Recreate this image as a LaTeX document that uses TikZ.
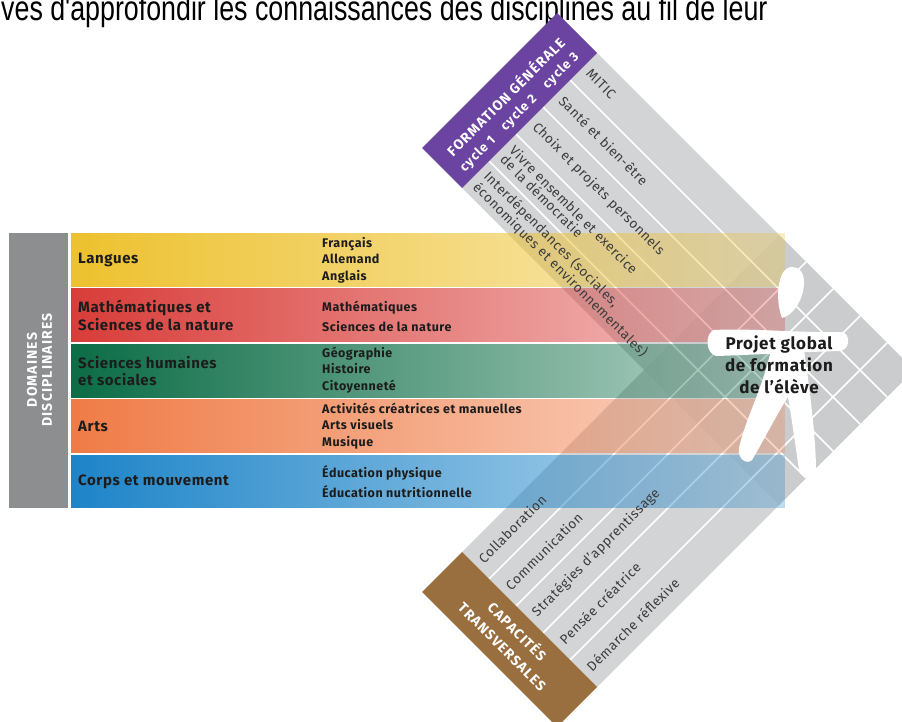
\documentclass[tikz,border=0pt]{standalone}
\usepackage{fontspec}
\setmainfont{Fira Sans}[LetterSpace=4]
\newfontfamily\spacedfont{Fira Sans}[LetterSpace=8]
\newfontfamily\pagefont{Liberation Sans}
\definecolor{dgGray}{HTML}{8D8E90}
\definecolor{dgStrip}{HTML}{C9CACC}
\definecolor{dgPurple}{HTML}{6B43A1}
\definecolor{dgBrown}{HTML}{9A6F3F}
\definecolor{dgYellow}{HTML}{EDC12E}
\definecolor{dgRed}{HTML}{D83C38}
\definecolor{dgGreen}{HTML}{0B6C46}
\definecolor{dgOrange}{HTML}{EF7B46}
\definecolor{dgBlue}{HTML}{1D84C8}
\definecolor{dgText}{HTML}{1C1C1C}
\definecolor{dgStripText}{HTML}{3C3C3C}
\usetikzlibrary{fadings}
\tikzfading[name=bandfade, left color=transparent!0, right color=transparent!72]

\begin{document}
\begin{tikzpicture}[x=1pt, y=-1pt,
  band/.style={fill=#1, path fading=bandfade},
  bandlabel/.style={anchor=west, inner sep=0pt, align=left, text=dgText, font=\fontsize{15}{17.3}\selectfont\bfseries},
  subjects/.style={anchor=west, inner sep=0pt, align=left, text=dgText, font=\fontsize{12.5}{16.5}\selectfont\bfseries},
  strip text/.style={anchor=west, inner sep=0pt, align=left, text=dgStripText, font=\fontsize{13.5}{13}\selectfont},
  header text/.style={inner sep=0pt, align=center, text=white, font=\spacedfont\fontsize{14}{15}\selectfont\bfseries},
  cycle text/.style={header text, font=\spacedfont\fontsize{13}{14}\selectfont\bfseries}]
  \clip (0,0) rectangle (902,722);
  % page text cut off at the top
  \node[anchor=base west, inner sep=0pt, font=\pagefont\fontsize{26.8}{30}\selectfont] (pagetext) at (1,21) {\scalebox{1}[1.3]{ves d'approfondir les connaissances des disciplines au fil de leur}};

  % "Formation generale" and "Capacites transversales" strips
  \fill[dgStrip, fill opacity=0.82] (597,53) -- (914,370) -- (779,505) -- (462,188) -- cycle;
  \fill[dgStrip, fill opacity=0.82] (597,687) -- (914,370) -- (779,235) -- (462,552) -- cycle;
  \foreach \a in {27,54,81,108} {
    \draw[white, line width=1.5pt] (597-\a,53+\a) -- (914-\a,370+\a);
    \draw[white, line width=1.5pt] (597-\a,687-\a) -- (914-\a,370-\a);
  }
  % strip headers
  \fill[dgPurple] (557,13) -- (597,53) -- (462,188) -- (422,148) -- cycle;
  \fill[dgBrown] (462,552) -- (597,687) -- (557,727) -- (422,592) -- cycle;
  \node[header text, rotate=45] (formation) at (505,96) {FORMATION GÉNÉRALE};
  \node[cycle text, rotate=45] (cycleone) at (478,154) {cycle 1};
  \node[cycle text, rotate=45] (cycletwo) at (519,113) {cycle 2};
  \node[cycle text, rotate=45] (cyclethree) at (561,71) {cycle 3};
  \node[header text, rotate=-45] (capacites) at (518,631) {CAPACITÉS};
  \node[header text, rotate=-45] (transversales) at (502,647) {TRANSVERSALES};

  % "Domaines disciplinaires" box
  \fill[dgGray] (9,233) rectangle (68,508);
  \node[header text, rotate=90] (domaines) at (39.5,370) {DOMAINES\\DISCIPLINAIRES};

  % subject bands
  \fill[band=dgYellow] (71,233) rectangle (785,287);
  \fill[band=dgRed] (71,288.5) rectangle (785,342.5);
  \fill[band=dgGreen] (71,344) rectangle (785,398);
  \fill[band=dgOrange] (71,399.5) rectangle (785,453.5);
  \fill[band=dgBlue] (71,455) rectangle (785,508);
  \node[bandlabel] (langues) at (78,260) {Langues};
  \node[bandlabel] (maths) at (78,315.5) {Mathématiques et\\Sciences de la nature};
  \node[bandlabel] (shs) at (78,371) {Sciences humaines\\et sociales};
  \node[bandlabel] (arts) at (78,426.5) {Arts};
  \node[bandlabel] (corps) at (78,481.5) {Corps et mouvement};
  \node[subjects] (languesdisc) at (322,260) {Français\\Allemand\\Anglais};
  \node[subjects] (mathsdisc) at (322,316.5) {Mathématiques\\[3.5pt]Sciences de la nature};
  \node[subjects] (shsdisc) at (322,370) {Géographie\\Histoire\\Citoyenneté};
  \node[subjects] (artsdisc) at (322,426) {Activités créatrices et manuelles\\Arts visuels\\Musique};
  \node[subjects] (corpsdisc) at (322,482) {Éducation physique\\[3.5pt]Éducation nutritionnelle};

  % strip items
  \node[strip text, rotate=-45] (mitic) at (588.5,71.5) {MITIC};
  \node[strip text, rotate=-45] (sante) at (561.5,98.5) {Santé et bien-être};
  \node[strip text, rotate=-45] (choix) at (534.5,125.5) {Choix et projets personnels};
  \node[strip text, rotate=-45] (vivre) at (507.5,152.5) {Vivre ensemble et exercice\\de la démocratie};
  \node[strip text, rotate=-45] (interdep) at (480.5,179.5) {Interdépendances (sociales,\\économiques et environnementales)};
  \node[strip text, rotate=45] (demarche) at (588.5,668.5) {Démarche réflexive};
  \node[strip text, rotate=45] (pensee) at (561.5,641.5) {Pensée créatrice};
  \node[strip text, rotate=45] (strategies) at (534.5,614.5) {Stratégies d’apprentissage};
  \node[strip text, rotate=45] (communication) at (507.5,587.5) {Communication};
  \node[strip text, rotate=45] (collaboration) at (480.5,560.5) {Collaboration};

  % pupil figure
  \fill[white] (782,318) .. controls (775,300) and (777,267) .. (792,267) .. controls (806,267) and (806,285) .. (801,298) .. controls (797,308) and (790,316) .. (782,318) -- cycle;
  \fill[white] (714,330) .. controls (750,328) and (800,333) .. (842,332) .. controls (851,334) and (850,350) .. (840,351) .. controls (800,352) and (750,355) .. (716,356) .. controls (705,353) and (705,333) .. (714,330) -- cycle;
  \fill[white] (771,350) .. controls (762,390) and (745,420) .. (739,448) .. controls (737,459) and (747,465) .. (752,460) .. controls (764,440) and (778,412) .. (788,397) .. controls (792,420) and (796,450) .. (799,470) .. controls (802,480) and (814,480) .. (816,470) .. controls (816,440) and (810,390) .. (804,350) -- cycle;
  \node[align=center, inner sep=0pt, text=dgText, font=\fontsize{17}{22}\selectfont\bfseries] (projet) at (779,365) {Projet global\\de formation\\de l’élève};
\end{tikzpicture}
\end{document}
